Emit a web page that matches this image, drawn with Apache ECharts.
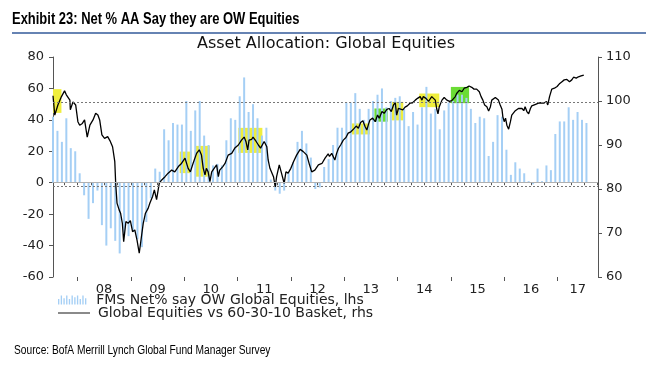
<!DOCTYPE html>
<html>
<head>
<meta charset="utf-8">
<script src="https://cdn.jsdelivr.net/npm/echarts@6/dist/echarts.min.js"></script>
<style>
html,body{margin:0;padding:0;background:#fff;}
#chart{width:646px;height:374px;}
</style>
</head>
<body>
<div id="chart"></div>
<script>
// ---------- DATA ----------
// Monthly FMS survey, first value = Jul 2007 (x unit: months since Jan 2007)
const firstMonth = 6; // Jul 2007
const fmsNetOW = [
  42, 33, 26, 41, 22, 20,                      // Jul-Dec 2007
  6, -8, -23, -13, -5, -27, -40, -29, -37, -45, -33, -34, // 2008
  -31, -36, -41, -25, -10, 9, 7, 34, 27, 38, 37, 37,      // 2009
  52, 33, 46, 52, 30, 24, 11, 12, 11, 27, 41, 40,         // 2010
  55, 67, 45, 50, 41, 30, 35, 2, -5, -7, -5, 6,           // 2011
  13, 26, 33, 25, 16, -4, -3, 10, 15, 24, 35, 35,         // 2012
  51, 51, 57, 47, 40, 47, 52, 56, 60, 48, 52, 54,         // 2013
  55, 47, 36, 45, 37, 48, 61, 44, 47, 34, 46, 51,         // 2014
  52, 56, 56, 54, 47, 38, 42, 41, 17, 26, 43, 42,         // 2015
  21, 5, 13, 9, 6, 1, -1, 9, 1, 11, 8, 31,                // 2016
  39, 39, 48, 40, 45, 40, 38                              // 2017
];

// Global Equities vs 60-30-10 basket: [months since Jan 2007, index]
const basketRelative = [
  [6.5,101.2],[6.9,96.8],[7.6,99.1],[8.4,101.0],[9.1,102.3],[9.5,101.4],[10.3,100.2],[10.4,98.0],
  [11.0,99.8],[11.6,99.1],[12.1,95.3],[12.5,94.5],[13.1,94.9],[13.6,95.7],[14.2,91.8],[14.8,94.5],
  [15.5,95.7],[16.1,97.2],[16.6,96.8],[17.0,95.7],[17.5,92.3],[18.1,91.5],[18.8,91.9],[19.3,91.0],
  [19.9,89.6],[20.4,86.2],[20.6,81.3],[20.9,76.8],[21.4,75.2],[21.7,74.5],[22.1,72.2],[22.4,68.0],
  [22.9,72.6],[23.4,72.2],[23.9,72.8],[24.4,70.3],[24.9,70.7],[25.4,68.4],[25.9,65.4],[26.4,69.2],
  [26.8,72.2],[27.3,74.5],[27.9,75.6],[28.3,76.8],[28.9,78.3],[29.3,79.8],[29.8,77.6],[30.4,81.3],
  [30.9,82.0],[31.7,82.8],[32.4,83.6],[33.2,84.3],[33.9,83.9],[34.7,85.1],[35.4,85.8],[36.2,87.0],
  [36.5,86.6],[36.9,84.7],[37.4,83.9],[38.0,85.8],[38.8,88.1],[39.4,88.9],[39.9,87.7],[40.3,84.7],
  [40.7,83.2],[41.0,84.7],[41.4,83.9],[41.8,81.7],[42.2,83.9],[42.5,83.6],[43.3,85.5],[43.7,82.8],
  [44.0,84.3],[44.7,85.1],[45.2,85.8],[45.9,87.7],[46.7,88.1],[47.4,89.3],[48.2,90.0],[48.9,91.1],
  [49.5,91.8],[49.9,90.8],[50.3,88.9],[50.6,91.1],[51.2,91.3],[51.5,91.8],[52.2,90.8],[52.7,90.0],
  [53.2,89.3],[53.6,88.9],[54.0,90.8],[54.6,89.6],[54.9,86.6],[55.3,84.7],[55.7,85.1],[56.1,82.8],
  [56.5,80.5],[56.8,82.8],[57.4,85.5],[57.9,83.6],[58.5,81.3],[58.9,83.9],[59.4,83.6],[60.0,84.7],
  [60.6,86.2],[61.3,87.7],[62.1,89.0],[62.8,88.5],[63.6,87.7],[64.2,85.5],[64.7,83.9],[65.4,84.3],
  [66.2,85.5],[67.0,85.8],[67.7,87.0],[68.4,88.0],[68.7,87.4],[69.2,88.1],[69.6,88.5],[69.9,86.6],
  [70.3,88.1],[70.7,89.2],[71.2,90.0],[71.8,91.1],[72.4,91.7],[72.9,92.7],[73.5,93.0],[74.1,93.6],
  [74.7,94.3],[75.2,93.8],[75.7,95.1],[76.2,95.5],[76.7,94.2],[77.1,93.4],[77.5,94.8],[77.8,95.7],
  [78.4,96.1],[79.0,95.3],[79.5,96.8],[79.9,96.1],[80.5,97.6],[81.0,97.2],[81.6,98.1],[82.1,98.3],
  [82.6,97.6],[83.1,99.1],[83.5,99.6],[83.8,96.8],[84.2,98.3],[84.6,98.7],[85.2,98.0],[85.7,98.6],
  [86.2,98.9],[86.8,99.5],[87.4,99.6],[88.0,100.2],[88.5,100.6],[89.1,101.0],[89.5,100.2],[89.8,101.0],
  [90.4,100.6],[91.0,99.9],[91.3,100.4],[91.7,101.0],[92.1,100.6],[92.5,100.2],[92.8,98.3],[93.1,97.1],
  [93.4,98.7],[94.0,100.2],[94.5,100.8],[95.1,100.2],[95.7,99.9],[96.2,100.1],[96.6,99.9],[97.0,101.0],
  [97.3,101.7],[97.9,102.4],[98.5,102.1],[99.0,102.9],[99.6,103.1],[100.1,103.4],[100.7,103.1],[101.2,102.7],
  [101.8,102.7],[102.4,102.1],[102.8,101.0],[103.2,100.2],[103.6,99.1],[104.1,98.7],[104.5,97.7],[104.9,98.7],
  [105.2,100.2],[105.6,100.4],[106.0,100.8],[106.4,100.4],[106.7,100.2],[107.1,99.1],[107.5,98.1],[107.7,96.4],
  [108.0,95.3],[108.3,96.1],[108.6,94.5],[109.0,93.6],[109.4,95.3],[109.7,96.8],[110.1,97.2],[110.5,97.8],
  [110.9,98.1],[111.2,98.3],[111.6,98.0],[112.0,98.3],[112.4,97.8],[112.7,98.7],[113.1,97.6],[113.5,97.1],
  [113.9,98.3],[114.2,98.9],[114.6,99.1],[115.2,99.3],[115.7,99.5],[116.3,99.6],[116.9,99.5],[117.5,99.9],
  [117.8,99.1],[118.2,101.0],[118.7,102.7],[119.3,102.9],[119.9,103.3],[120.5,104.0],[121.0,104.4],[121.5,104.8],
  [122.1,104.9],[122.7,104.4],[123.2,104.8],[123.6,105.4],[124.2,105.2],[124.7,105.5],[125.3,105.7],[125.9,105.9]
];

// Highlighted periods: months since Jan 2007 and index range (rhs)
const highlightStart = [6.5, 35.0, 38.6, 48.2, 73.7, 78.8, 82.7, 88.9, 96.0];
const highlightEnd   = [8.4, 37.7, 41.8, 53.6, 77.8, 81.8, 85.3, 93.4, 100.1];
const highlightLow   = [97.3, 83.6, 82.8, 88.2, 92.4, 95.3, 95.6, 98.6, 99.5];
const highlightHigh  = [102.7, 88.5, 89.8, 93.9, 94.9, 98.3, 99.8, 101.7, 103.2];
const highlightKind  = ['y', 'y', 'y', 'y', 'y', 'g', 'y', 'y', 'g'];

// Reference lines (lhs)
const dashedLevels = [51, -2];

// Axis labels
const yearLabels = ['08', '09', '10', '11', '12', '13', '14', '15', '16', '17'];
const axisStart = 6.5, axisEnd = 129.1;

// Texts
const titleText = 'Exhibit 23: Net % AA Say they are OW Equities';
const subtitleText = 'Asset Allocation: Global Equities';
const sourceText = 'Source: BofA Merrill Lynch Global Fund Manager Survey';

// ---------- BUILD ----------
const barData = fmsNetOW.map((v, i) => [firstMonth + i + 0.5, v]);
const yearCenters = yearLabels.map((_, k) => {
  const s = 12 * (k + 1), e = Math.min(12 * (k + 2), axisEnd);
  return (s + e) / 2;
});
const quarterTicks = [];
for (let q = 9; q <= axisEnd; q += 3) quarterTicks.push(q);
const yearTicks = [];
for (let y = 12; y <= axisEnd; y += 12) yearTicks.push(y);

const areaColor = { y: '#efee3e', g: '#6bdc35' };
const areaData = highlightStart.map((s, i) => [
  { xAxis: s, yAxis: highlightLow[i], itemStyle: { color: areaColor[highlightKind[i]], opacity: 1 } },
  { xAxis: highlightEnd[i], yAxis: highlightHigh[i] }
]);

// bar legend icon
let barIcon = 'path://';
const bh = [6, 10, 7, 10, 6, 10, 8, 10, 6, 10, 7];
bh.forEach((h, k) => { const x = k * 3; barIcon += `M${x},${10 - h}H${x + 1.5}V10H${x}Z`; });

const sans = "'DejaVu Sans', sans-serif";

const chart = echarts.init(document.getElementById('chart'), null, { renderer: 'canvas' });
chart.setOption({
  animation: false,
  backgroundColor: '#fff',
  title: [
    { text: subtitleText, left: 197, top: 36, padding: 0,
      textStyle: { fontFamily: sans, fontWeight: 'normal', fontSize: 16, color: '#111' } }
  ],
  graphic: [
    { type: 'text', left: 12, top: 12, scaleX: 0.81, silent: true,
      style: { text: titleText, font: "bold 16px 'Liberation Sans', Arial, sans-serif", fill: '#000' } },
    { type: 'rect', shape: { x: 12, y: 32, width: 634, height: 2 }, style: { fill: '#6683b3' }, silent: true },
    { type: 'text', left: 14, top: 345, scaleX: 0.85, silent: true,
      style: { text: sourceText, font: "12px 'Liberation Sans', Arial, sans-serif", fill: '#000' } }
  ],
  legend: [
    { data: [{ name: 'FMS Net% say OW Global Equities, lhs', icon: barIcon, itemStyle: { color: '#a5cff5' } }],
      left: 58, top: 293, itemWidth: 32, itemHeight: 9, padding: 0, selectedMode: false,
      textStyle: { fontFamily: sans, fontSize: 14, color: '#222', padding: [0, 0, 0, 3] } },
    { data: [{ name: 'Global Equities vs 60-30-10 Basket, rhs', icon: 'rect', itemStyle: { color: '#8a8a8a' } }],
      left: 58, top: 306, itemWidth: 32, itemHeight: 2, padding: 0, selectedMode: false,
      textStyle: { fontFamily: sans, fontSize: 14, color: '#222', padding: [0, 0, 0, 3] } }
  ],
  grid: { left: 53, right: 48, top: 57, bottom: 97, containLabel: false },
  xAxis: [
    { type: 'value', min: axisStart, max: axisEnd, position: 'bottom',
      axisLine: { show: true, lineStyle: { color: '#555', width: 1 } },
      axisTick: { show: true, length: 2.5, customValues: quarterTicks, lineStyle: { color: '#555' } },
      axisLabel: { show: true, customValues: yearCenters, margin: 6, fontFamily: sans, fontSize: 13, color: '#222',
        formatter: v => yearLabels[Math.floor(v / 12) - 1] },
      splitLine: { show: false } },
    { type: 'value', min: axisStart, max: axisEnd, position: 'bottom',
      axisLine: { show: false },
      axisTick: { show: true, length: 4, customValues: yearTicks, lineStyle: { color: '#555' } },
      axisLabel: { show: false }, splitLine: { show: false } }
  ],
  yAxis: [
    { type: 'value', min: -60, max: 80, interval: 20, position: 'left',
      axisLine: { show: true, lineStyle: { color: '#555' } },
      axisTick: { show: true, length: 4, lineStyle: { color: '#555' } },
      axisLabel: { margin: 9, fontFamily: sans, fontSize: 13, color: '#222' },
      splitLine: { show: false } },
    { type: 'value', min: 60, max: 110, interval: 10, position: 'right',
      axisLine: { show: true, lineStyle: { color: '#555' } },
      axisTick: { show: true, length: 4, lineStyle: { color: '#555' } },
      axisLabel: { margin: 8, fontFamily: sans, fontSize: 13, color: '#222' },
      splitLine: { show: false } }
  ],
  series: [
    { name: 'FMS Net% say OW Global Equities, lhs', type: 'bar', xAxisIndex: 0, yAxisIndex: 0,
      data: barData, barWidth: 2, itemStyle: { color: '#a5cff5' }, z: 2, silent: true,
      markLine: { silent: true, symbol: 'none', label: { show: false },
        data: [
          { yAxis: 0, lineStyle: { color: '#b0b0b0', type: 'solid', width: 1 } },
          ...dashedLevels.map(v => ({ yAxis: v, lineStyle: { color: '#777', type: [2, 2], width: 1 } }))
        ] } },
    { name: 'Global Equities vs 60-30-10 Basket, rhs', type: 'line', xAxisIndex: 0, yAxisIndex: 1,
      data: basketRelative, symbol: 'none', z: 3, silent: true,
      lineStyle: { color: '#000', width: 1.3 }, itemStyle: { color: '#000' },
      markArea: { silent: true, data: areaData } }
  ]
});
</script>
</body>
</html>
